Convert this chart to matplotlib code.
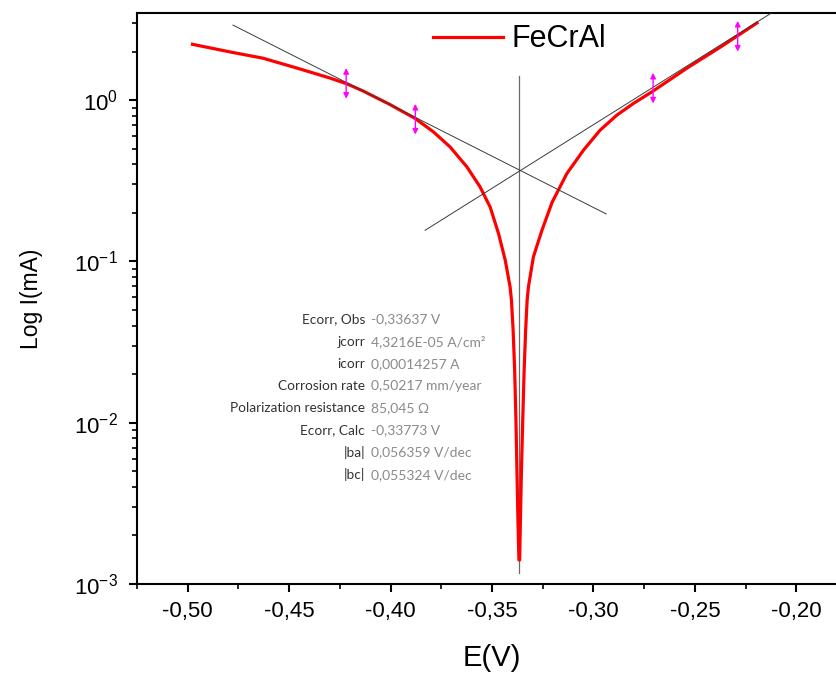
import numpy as np
import matplotlib.pyplot as plt
from matplotlib.ticker import FuncFormatter, MultipleLocator, LogLocator

plt.rcParams["font.family"] = ["Liberation Sans", "DejaVu Sans"]

# Tafel polarization curve, E in V, I in mA
cath_E = [-0.4977, -0.4791, -0.4629, -0.4461, -0.4298, -0.4214, -0.4136, -0.4002,
          -0.3953, -0.3879, -0.3789, -0.3707, -0.3624, -0.3559, -0.3509, -0.3468,
          -0.3435, -0.3411, -0.34043, -0.33960, -0.33885, -0.33821, -0.33772,
          -0.33723, -0.33674]
cath_I = [2.22, 1.99, 1.82, 1.58, 1.37, 1.26, 1.14, 0.938,
          0.867, 0.770, 0.636, 0.513, 0.386, 0.290, 0.217, 0.149,
          0.102, 0.0696, 0.0576, 0.0375, 0.0212, 0.01038, 0.00508,
          0.00249, 0.00141]
anod_E = [-0.33639, -0.33600, -0.33550, -0.33486, -0.33417, -0.33343, -0.33269,
          -0.33205, -0.3296, -0.3254, -0.32036, -0.3131, -0.3049, -0.2967,
          -0.2885, -0.2803, -0.2712, -0.2539, -0.2375, -0.2194]
anod_I = [0.00141, 0.00249, 0.00508, 0.01038, 0.0212, 0.0375, 0.0576,
          0.0696, 0.1068, 0.156, 0.233, 0.351, 0.490, 0.652,
          0.807, 0.954, 1.126, 1.58, 2.13, 3.01]

# fitted Tafel lines and Ecorr marker
tafel_c_E = [-0.4777, -0.2937]
tafel_c_I = [2.92, 0.197]
tafel_a_E = [-0.3830, -0.2110]
tafel_a_I = [0.156, 3.55]
ecorr_E = [-0.3365, -0.3365]
ecorr_I = [1.42, 0.00117]

# fit-range markers (double arrows)
arrow_E = [-0.4219, -0.3878, -0.2706, -0.2289]
arrow_I = [1.27, 0.762, 1.187, 2.49]

fit_labels = ["Ecorr, Obs", "jcorr", "icorr", "Corrosion rate",
              "Polarization resistance", "Ecorr, Calc", "|ba|", "|bc|"]
fit_values = ["-0,33637 V", "4,3216E-05 A/cm\u00b2", "0,00014257 A", "0,50217 mm/year",
              "85,045 \u03a9", "-0,33773 V", "0,056359 V/dec", "0,055324 V/dec"]

fig = plt.figure(figsize=(8.36, 6.73), dpi=100)
ax = fig.add_axes([0.1639, 0.1322, 0.8493, 0.8484])

ax.plot(cath_E + anod_E, cath_I + anod_I, color="#ff0000", lw=2.3, label="FeCrAl",
        solid_joinstyle="round", zorder=3)
ax.plot(tafel_c_E, tafel_c_I, color="#3a3a3a", lw=0.7, zorder=4)
ax.plot(tafel_a_E, tafel_a_I, color="#3a3a3a", lw=0.7, zorder=4)
ax.plot(ecorr_E, ecorr_I, color="#6a6a6a", lw=0.9, zorder=2)

span = 10 ** 0.095
for e, i in zip(arrow_E, arrow_I):
    ax.annotate("", xy=(e, i * span), xytext=(e, i / span),
                arrowprops=dict(arrowstyle="<|-|>", color="#ff00ff", lw=1.0,
                                mutation_scale=8, shrinkA=0, shrinkB=0), zorder=5)

ax.set_yscale("log")
ax.set_xlim(-0.525, -0.175)
ax.set_ylim(1e-3, 10 ** 0.54)

ax.xaxis.set_major_locator(MultipleLocator(0.05))
ax.xaxis.set_minor_locator(MultipleLocator(0.025))
ax.xaxis.set_major_formatter(FuncFormatter(lambda v, p: f"{v:.2f}".replace(".", ",")))
ax.yaxis.set_major_locator(LogLocator(base=10, numticks=10))
ax.yaxis.set_minor_locator(LogLocator(base=10, subs=np.arange(2, 10), numticks=10))

for s in ["left", "bottom", "top"]:
    ax.spines[s].set_linewidth(1.5)
ax.spines["right"].set_visible(False)
ax.tick_params(which="major", direction="out", length=6, width=1.5, labelsize=16,
               top=False, right=False)
ax.tick_params(which="minor", direction="out", length=3.5, width=1.2,
               top=False, right=False)
ax.tick_params(axis="x", pad=6)
ax.tick_params(axis="y", labelsize=16, pad=8)

ax.set_xlabel("E(V)", fontsize=21, labelpad=16)
ax.set_ylabel("Log I(mA)", fontsize=16.5, labelpad=22)

ax.legend(loc="center left", bbox_to_anchor=(0.4165, 0.954), frameon=False,
          fontsize=22, handlelength=2.29, handletextpad=0.29,
          borderpad=0, borderaxespad=0)

# fit results table
y0 = 0.4636
dy = 0.0389
for k, (lab, val) in enumerate(zip(fit_labels, fit_values)):
    y = y0 - k * dy
    ax.text(0.321, y, lab, transform=ax.transAxes, ha="right", va="center",
            fontsize=9.8, color="#333333", family=["Lato", "DejaVu Sans"])
    ax.text(0.330, y, val, transform=ax.transAxes, ha="left", va="center",
            fontsize=10, color="#8a8a8a", family=["Lato", "DejaVu Sans"])

fig.savefig("out.png", dpi=100)
